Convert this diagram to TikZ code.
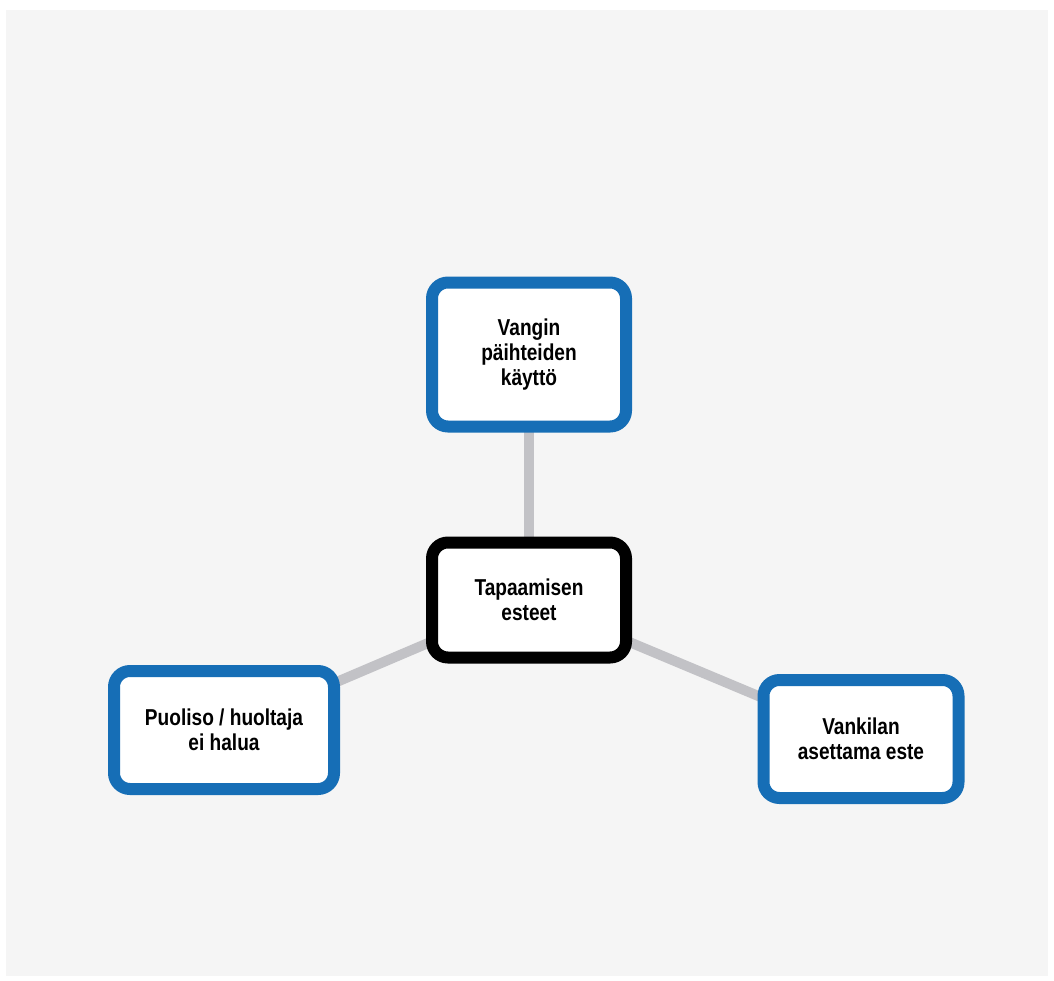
\documentclass[tikz,border=0pt]{standalone}
\usepackage{fontspec}
\setmainfont{Liberation Sans}[FakeStretch=0.83]
\usetikzlibrary{positioning,backgrounds}
\definecolor{boxblue}{RGB}{22,110,182}
\definecolor{linkgray}{RGB}{194,194,198}
\definecolor{paper}{RGB}{245,245,245}

\begin{document}
\begin{tikzpicture}[x=1pt, y=-1pt,
  main/.style = {draw=boxblue, line width=12pt, rounded corners=16pt, fill=white,
    align=center, font=\fontsize{23}{25}\selectfont\bfseries, inner sep=0pt},
  hub/.style = {main, draw=black},
  link/.style = {draw=linkgray, line width=10pt}]
\useasboundingbox (0,0) rectangle (1054,980);
%\node[style] (name) [position] {text};
\node[hub, minimum width=194pt, minimum height=115pt] (hub) at (529,600) {Tapaamisen\\esteet};
\node[main, minimum width=194pt, minimum height=144pt] (use) [above=104pt of hub] {Vangin\\päihteiden\\käyttö};
\node[main, minimum width=220pt, minimum height=118pt] (spouse) at (224,730) {Puoliso / huoltaja\\ei halua};
\node[main, minimum width=195pt, minimum height=118pt] (prison) at (861,739) {Vankilan\\asettama este};
\begin{scope}[on background layer]
\fill[paper] (6,10) rectangle (1048,976);
\draw[link] (hub.center) -- (use.center);
\draw[link] (hub.center) -- (spouse.center);
\draw[link] (hub.center) -- (prison.center);
\end{scope}
\end{tikzpicture}
\end{document}
